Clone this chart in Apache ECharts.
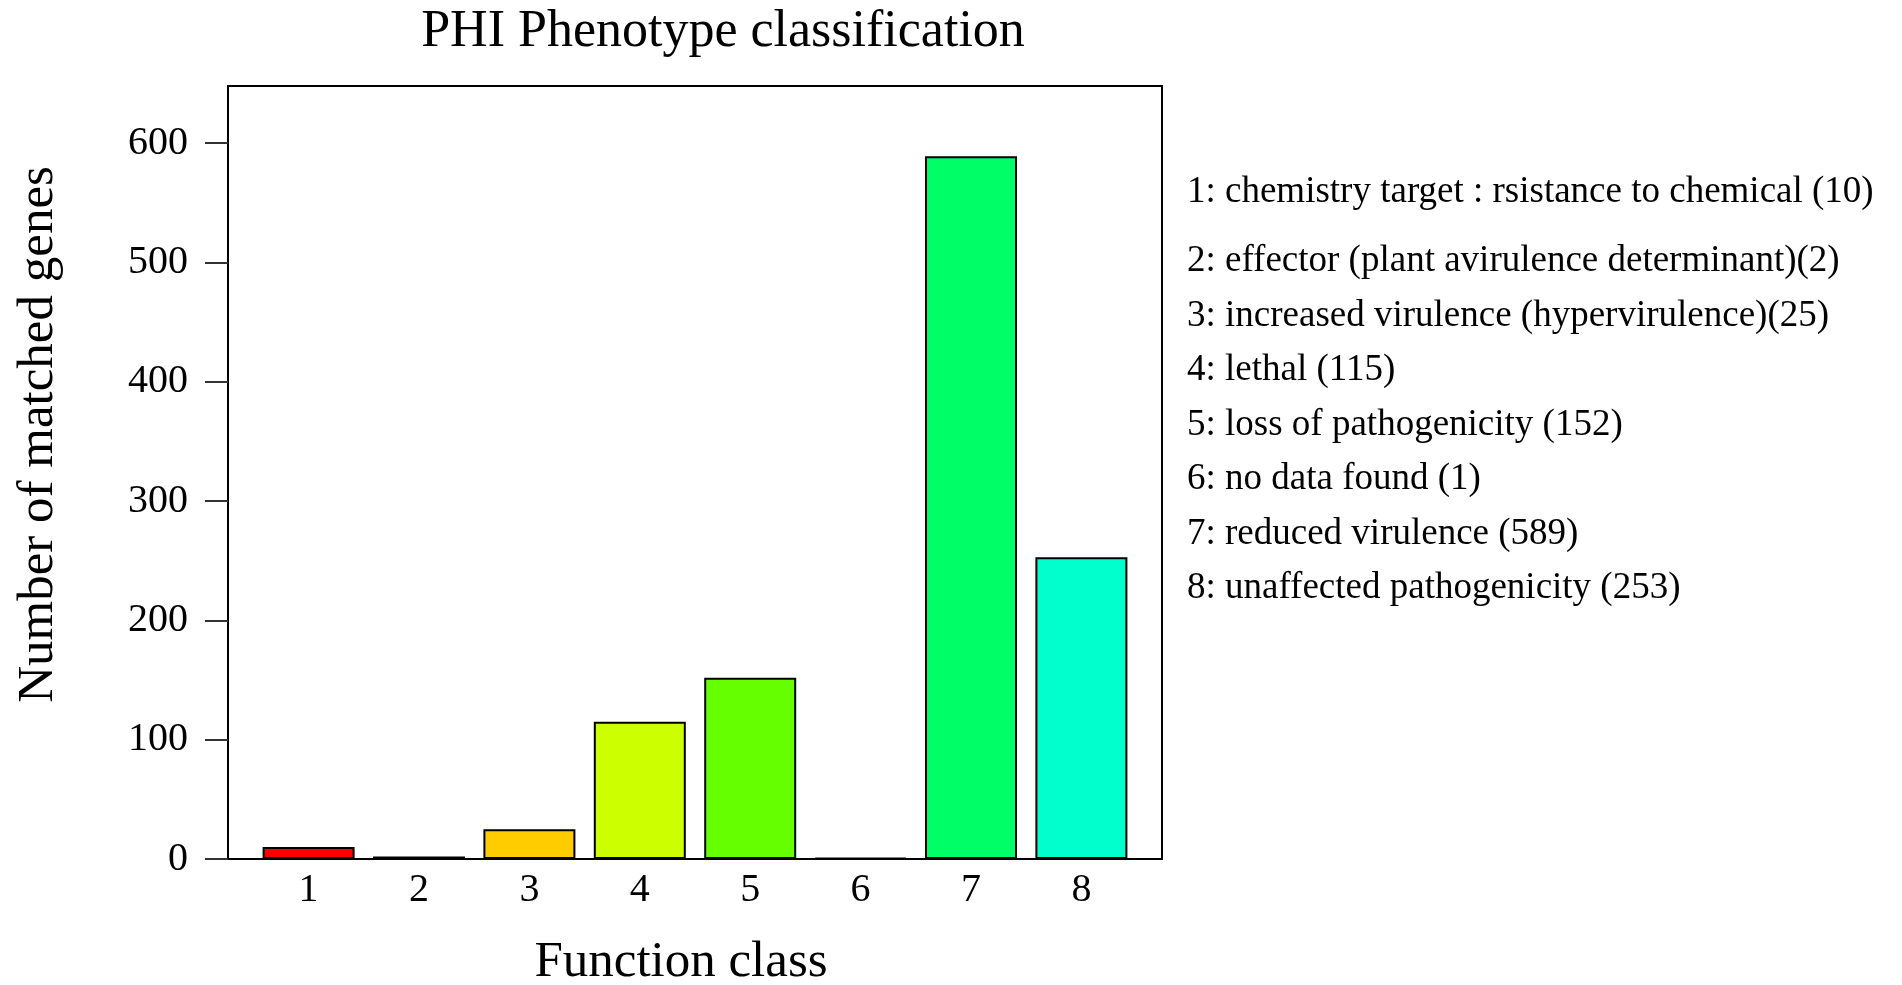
<!DOCTYPE html>
<html>
<head>
<meta charset="utf-8">
<title>PHI Phenotype classification</title>
<script src="https://cdn.jsdelivr.net/npm/echarts@6/dist/echarts.min.js"></script>
<style>
    html, body { margin: 0; padding: 0; background: #fff; }
    #chart { width: 1902px; height: 985px; }
</style>
</head>
<body>
<div id="chart"></div>
<script>
// data
const functionClasses = ['1', '2', '3', '4', '5', '6', '7', '8'];
const matchedGenes = [10, 2, 25, 115, 152, 1, 589, 253];
const barColors = ['#FF0000', '#FF6600', '#FFCC00', '#CCFF00', '#66FF00', '#00FF00', '#00FF66', '#00FFCC'];
const classLabels = [
    '1: chemistry target : rsistance to chemical (10)',
    '2: effector (plant avirulence determinant)(2)',
    '3: increased virulence (hypervirulence)(25)',
    '4: lethal (115)',
    '5: loss of pathogenicity (152)',
    '6: no data found (1)',
    '7: reduced virulence (589)',
    '8: unaffected pathogenicity (253)'
];
const yTicks = [0, 100, 200, 300, 400, 500, 600];
const yMax = 647.9;

document.addEventListener('DOMContentLoaded', () => {
    const chart = echarts.init(document.getElementById('chart'));
    const serif = "'Liberation Serif', 'Times New Roman', serif";

    // box of the plot (R style), and an inner grid where the bars sit
    const box = { left: 228, top: 86, width: 934, height: 773 };
    const inset = 25.4;

    const legendTexts = classLabels.map((txt, i) => ({
        type: 'text',
        left: 1187,
        top: (i === 0 ? 194 : 263 + (i - 1) * 54.5) - 20,
        style: { text: txt, font: '37px ' + serif, fill: '#000' }
    }));

    const option = {
        animation: false,
        backgroundColor: '#fff',
        title: {
            text: 'PHI Phenotype classification',
            left: 723, top: 6, textAlign: 'center', padding: 0,
            textStyle: { fontFamily: serif, fontSize: 52, fontWeight: 'normal', color: '#000' }
        },
        grid: [
            { left: box.left, top: box.top, width: box.width, height: box.height, outerBoundsMode: 'none',
              show: true, borderColor: '#000', borderWidth: 2, backgroundColor: 'transparent' },
            { left: box.left + inset, top: box.top, width: box.width - 2 * inset, height: box.height,
              outerBoundsMode: 'none' }
        ],
        xAxis: [
            { gridIndex: 0, type: 'value', min: 0, max: 1, show: false },
            {
                gridIndex: 1, type: 'category', data: functionClasses,
                axisLine: { show: false }, axisTick: { show: false },
                axisLabel: { fontFamily: serif, fontSize: 40, color: '#000', margin: 11 },
                name: 'Function class', nameLocation: 'middle', nameGap: 78,
                nameTextStyle: { fontFamily: serif, fontSize: 51, color: '#000', padding: [0, 28, 0, 0] }
            }
        ],
        yAxis: [
            {
                gridIndex: 0, type: 'value', min: 0, max: yMax,
                axisLine: { show: false },
                splitLine: { show: false },
                axisTick: { show: true, length: 23, customValues: yTicks,
                    lineStyle: { color: '#333', width: 2 } },
                axisLabel: { customValues: yTicks, fontFamily: serif, fontSize: 40, color: '#000', margin: 40 },
                name: 'Number of matched genes', nameLocation: 'middle', nameGap: 164, nameRotate: 90,
                nameTextStyle: { fontFamily: serif, fontSize: 51, color: '#000', padding: [0, 0, 0, 76] }
            },
            { gridIndex: 1, type: 'value', min: 0, max: yMax, show: false }
        ],
        series: [{
            type: 'bar',
            xAxisIndex: 1, yAxisIndex: 1,
            barCategoryGap: '16.67%',
            data: matchedGenes.map((v, i) => ({ value: v, itemStyle: { color: barColors[i] } })),
            itemStyle: { borderColor: '#000', borderWidth: 2 }
        }],
        graphic: legendTexts
    };
    chart.setOption(option);
    window.addEventListener('resize', () => chart.resize());
});
</script>
</body>
</html>
